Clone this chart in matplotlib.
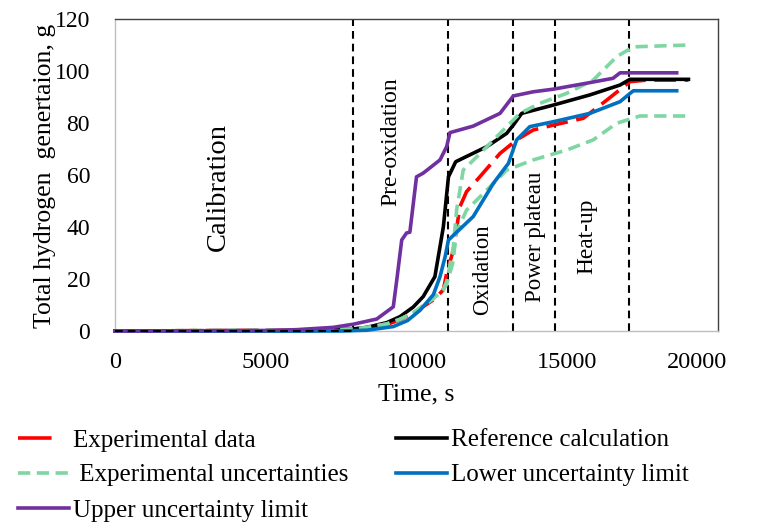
import matplotlib
matplotlib.use("Agg")
import matplotlib.pyplot as plt
from matplotlib.lines import Line2D

plt.rcParams['font.family'] = ['Liberation Serif', 'DejaVu Serif']

# ---------------- data ----------------
phase_times = [7900, 11060, 13200, 14580, 17050]
phase_names = ["Calibration", "Pre-oxidation", "Oxidation", "Power plateau", "Heat-up"]
phase_label_x = [3420, 9150, 12200, 13960, 15650]
phase_label_y = [55.4, 73, 23.5, 36.2, 36.5]
phase_label_size = [20.5, 17, 16.3, 16.5, 16.8]

exp_t = [0, 4000, 6500, 7900, 8350, 9010, 9450, 9890, 10560, 10890, 11000, 11220, 11440,
         11660, 12100, 12770, 13320, 13870, 14540, 15530, 16310, 17080, 17630, 19020]
exp_v = [0, 0.2, 0.3, 0.6, 1.2, 2.5, 4.3, 6.8, 12, 15.8, 22.2, 31, 47.8,
         53.6, 59.3, 68.3, 73.5, 77.3, 79.2, 81.8, 88.8, 95.9, 96.5, 96.5]

ref_t = [0, 6500, 7900, 8350, 9010, 9450, 9890, 10220, 10610, 10890, 11060, 11300,
         12330, 12990, 13210, 13490, 14540, 15750, 16750, 17080, 19020]
ref_v = [0, 0.1, 0.8, 1.4, 3.2, 5.5, 9.2, 13.2, 20.9, 40, 59.3, 65.1,
         70.9, 76, 79.2, 83.7, 86.9, 90.8, 94.6, 96.8, 96.8]

unc_hi_t = [0, 4000, 6500, 7900, 8350, 9010, 9450, 9890, 10560, 10890, 11000, 11220, 11330,
            11550, 12000, 12770, 13430, 14100, 14980, 15860, 16640, 17190, 19020]
unc_hi_v = [0, 0.2, 0.3, 0.7, 1.3, 2.7, 4.5, 7, 12.5, 16, 19, 32, 46.5,
            61.9, 67, 76, 83.7, 87.6, 91.4, 96.5, 105.5, 109.3, 110]

unc_lo_t = [0, 4000, 6500, 7900, 8350, 9010, 9450, 9890, 10560, 10890, 11000, 11200, 11330,
            11660, 12330, 12990, 13870, 14980, 15860, 16640, 17410, 19020]
unc_lo_v = [0, 0.2, 0.3, 0.7, 1.3, 2.7, 4.5, 7, 12.5, 16, 18, 26, 38,
            46.5, 54.2, 61.9, 65.8, 69.6, 73.5, 79.9, 82.7, 82.7]

low_t = [0, 7500, 8350, 9230, 9700, 10120, 10560, 10780, 10950, 11060, 11880, 12550,
         13050, 13320, 13760, 14540, 15750, 16750, 17190, 18630]
low_v = [0, 0, 0.3, 1.7, 4, 8, 14, 20.9, 28.6, 35, 44, 56.8,
         64.5, 73.5, 78.6, 80.5, 83.7, 88.2, 92.4, 92.4]

up_t = [0, 5000, 6000, 7240, 7900, 8680, 9230, 9350, 9510, 9670, 9780, 10000, 10220,
        10780, 11000, 11110, 11880, 12770, 13210, 13870, 14530, 15640, 16520, 16750, 18630]
up_v = [0, 0.2, 0.5, 1.4, 2.6, 4.6, 9.3, 20, 35, 37.7, 38, 59.3, 60.7,
        65.8, 70.9, 76.3, 78.8, 83.7, 90.4, 92, 93, 95.3, 97.2, 99.3, 99.3]

x_ticks = [0, 5000, 10000, 15000, 20000]
y_ticks = [0, 20, 40, 60, 80, 100, 120]

labels = ["Experimental data", "Reference calculation", " Experimental uncertainties",
          "Lower uncertainty limit", "Upper uncertainty limit"]

RED = "#ff0000"
BLACK = "#000000"
GREEN = "#7fd6a2"
BLUE = "#0070c0"
PURPLE = "#7030a0"

# ---------------- figure ----------------
W, H = 770, 529
fig = plt.figure(figsize=(W / 100, H / 100), dpi=100)
L, R, T, B = 115, 718, 19, 331
ax = fig.add_axes([L / W, 1 - B / H, (R - L) / W, (B - T) / H])
ax.set_xlim(0, 20000)
ax.set_ylim(0, 120)

lw = 2.6
# phase boundaries
for t in phase_times:
    ax.plot([t, t], [0, 120], color=BLACK, lw=1.5, dashes=(3.7, 2.4), zorder=2)

ax.plot(exp_t, exp_v, color=RED, lw=lw, dashes=(6.0, 2.4), zorder=3, clip_on=False)
ax.plot(ref_t, ref_v, color=BLACK, lw=lw, zorder=4, clip_on=False)
ax.plot(unc_hi_t, unc_hi_v, color=GREEN, lw=lw, dashes=(3.4, 1.8), zorder=5, clip_on=False)
ax.plot(unc_lo_t, unc_lo_v, color=GREEN, lw=lw, dashes=(3.4, 1.8), zorder=5, clip_on=False)
ax.plot(low_t, low_v, color=BLUE, lw=lw, zorder=6, clip_on=False)
ax.plot(up_t, up_v, color=PURPLE, lw=lw, zorder=7, clip_on=False)
ax.plot([0, phase_times[0]], [0, 0], color=BLACK, lw=1.5, dashes=(3.7, 2.4), zorder=8, clip_on=False)

for name, x, y, s in zip(phase_names, phase_label_x, phase_label_y, phase_label_size):
    ax.text(x, y, name, rotation=90, ha="center", va="center", fontsize=s, color="#000000")

# ticks
ax.set_xticks(x_ticks)
ax.set_xticklabels([str(v) for v in x_ticks[:-1]] + [""])
ax.set_yticks(y_ticks)
ax.tick_params(axis="x", length=0, pad=15, labelsize=17.5, colors="#000000")
ax.tick_params(axis="y", length=0, pad=18, labelsize=17, colors="#000000")
ax.annotate(str(x_ticks[-1]), xy=(x_ticks[-1], 0), xycoords=("data", "axes fraction"),
            xytext=(-21, -21), textcoords="offset pixels", ha="center", va="top",
            fontsize=17.5, annotation_clip=False)

for side in ["left", "bottom"]:
    ax.spines[side].set_color("#bfbfbf")
    ax.spines[side].set_linewidth(1.0)
for side in ["top", "right"]:
    ax.spines[side].set_color("#404040")
    ax.spines[side].set_linewidth(1.0)

fig.text(416 / W, 1 - 394 / H, "Time, s", ha="center", va="center", fontsize=18.5)
fig.text(45 / W, 1 - 176 / H, "Total hydrogen  genertaion, g", rotation=90,
         ha="center", va="center", fontsize=18.5)

# legend
handles = [
    Line2D([], [], color=RED, lw=lw, dashes=(9.3, 5)),
    Line2D([], [], color=GREEN, lw=lw, dashes=(3.4, 1.8)),
    Line2D([], [], color=PURPLE, lw=lw),
    Line2D([], [], color=BLACK, lw=lw),
    Line2D([], [], color=BLUE, lw=lw),
]
leg_labels = [labels[0], labels[2], labels[4], labels[1], labels[3]]
fig.legend(handles, leg_labels, ncol=2, loc="upper left",
           bbox_to_anchor=(18 / W, 1 - 429 / H), frameon=False, fontsize=18,
           handlelength=2.05, handletextpad=0.15, columnspacing=1.9,
           labelspacing=0.5, borderaxespad=0, borderpad=0)

fig.savefig("out.png", dpi=100)
